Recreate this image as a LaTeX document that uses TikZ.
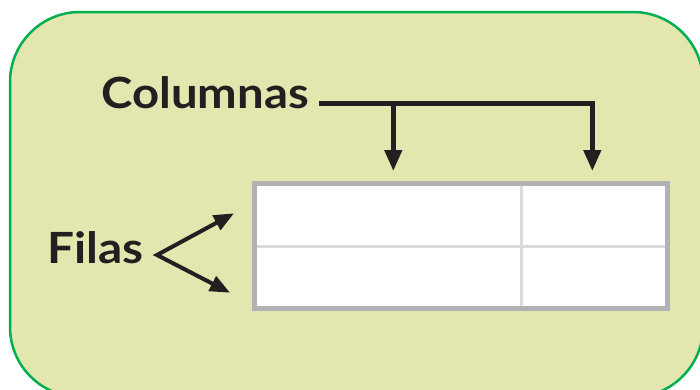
\documentclass[tikz,border=0pt]{standalone}
\usepackage{fontspec}
\setsansfont{Lato}
\usetikzlibrary{arrows.meta}
\definecolor{framegreen}{RGB}{0,176,80}
\definecolor{panelfill}{RGB}{228,230,176}
\definecolor{tableborder}{RGB}{178,178,178}
\definecolor{gridline}{RGB}{218,218,218}
\definecolor{ink}{RGB}{35,31,32}
\begin{document}
\begin{tikzpicture}[x=1pt,y=-1pt,
  textlabel/.style={font=\sffamily\bfseries\fontsize{43}{43}\selectfont, text=ink, inner sep=0pt, anchor=base west},
  colarrow/.style={draw=ink, line width=4.5pt, line join=miter, -{Triangle[length=21pt,width=17pt]}},
  rowarrow/.style={draw=ink, line width=4pt, line join=miter, {Triangle[length=20pt,width=16pt]}-{Triangle[length=20pt,width=16pt]}},
  gridrule/.style={draw=gridline, line width=2.2pt}]
\useasboundingbox (0,0) rectangle (700,389);
\clip (0,0) rectangle (700,389);
\draw[draw=framegreen, fill=panelfill, line width=2.5pt, rounded corners=70pt] (10,12) rectangle (703,397);
% table
\node[draw=tableborder, fill=white, line width=5pt, minimum width=413pt, minimum height=125pt, inner sep=0pt] (tabla) at (461,246) {};
\coordinate (vtop) at (521.5,186);
\coordinate (vbot) at (521.5,306);
\draw[gridrule] (vtop) -- (vbot);
\coordinate (hleft) at (257,246.5);
\coordinate (hright) at (665,246.5);
\draw[gridrule] (hleft) -- (hright);
% labels
\node[textlabel] (columnas) at (101,108) {\scalebox{1.1}[1]{Columnas}};
\node[textlabel] (filas) at (47,263.3) {\scalebox{1.11}[1]{Filas}};
% column arrows
\coordinate (j) at (319,103.5);
\coordinate (c1) at (393.3,103.5);
\coordinate (c2) at (592.3,103.5);
\coordinate (t1) at (393.3,171);
\coordinate (t2) at (592.3,171);
\draw[colarrow] (j) -- (c2) -- (t2);
\draw[colarrow] (c1) -- (t1);
% row arrows
\coordinate (apex) at (157,255);
\coordinate (r1) at (234,213.3);
\coordinate (r2) at (230,292.7);
\draw[rowarrow] (r1) -- (apex) -- (r2);
\end{tikzpicture}
\end{document}
